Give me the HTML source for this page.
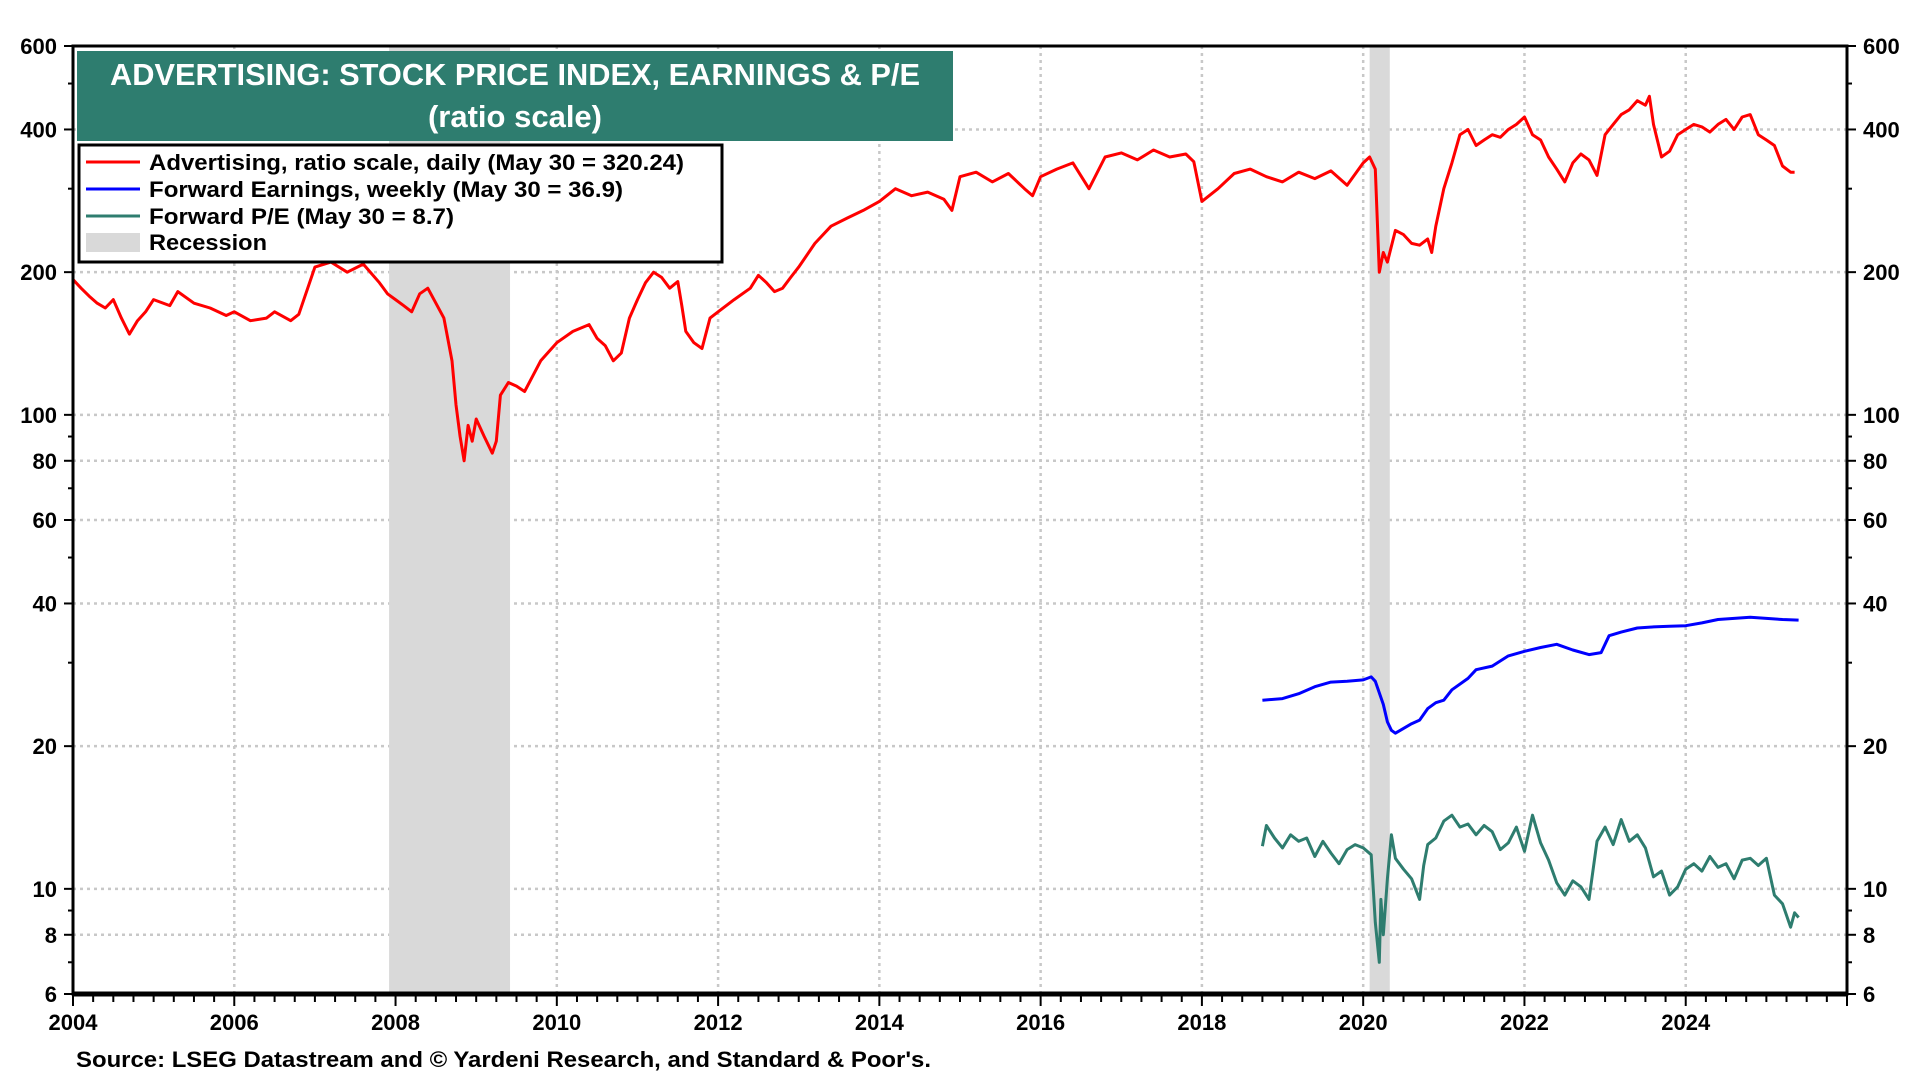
<!DOCTYPE html>
<html><head><meta charset="utf-8"><style>
html,body{margin:0;padding:0;background:#fff;width:1920px;height:1080px;overflow:hidden}
svg text{font-family:"Liberation Sans",Arial,sans-serif;font-weight:bold}
</style></head><body>
<svg id="chart" width="1920" height="1080" xmlns="http://www.w3.org/2000/svg">
<g id="grid"></g>
<g id="rec"></g>
<g id="series"></g>
<g id="axes"></g>
<rect x="77" y="51" width="876" height="90" fill="#2e7d6f"/>
<text x="515" y="85" fill="#fff" font-size="31" text-anchor="middle" textLength="810" lengthAdjust="spacingAndGlyphs">ADVERTISING: STOCK PRICE INDEX, EARNINGS &amp; P/E</text>
<text x="515" y="127" fill="#fff" font-size="31" text-anchor="middle">(ratio scale)</text>
<g>
<rect x="79" y="145" width="643" height="117" fill="#fff" stroke="#000" stroke-width="3"/>
<line x1="86" y1="162" x2="140" y2="162" stroke="#ff0000" stroke-width="3"/>
<text x="149" y="170" font-size="22" textLength="535" lengthAdjust="spacingAndGlyphs">Advertising, ratio scale, daily (May 30 = 320.24)</text>
<line x1="86" y1="189" x2="140" y2="189" stroke="#0000ff" stroke-width="3"/>
<text x="149" y="197" font-size="22" textLength="474" lengthAdjust="spacingAndGlyphs">Forward Earnings, weekly (May 30 = 36.9)</text>
<line x1="86" y1="216" x2="140" y2="216" stroke="#2e7d6f" stroke-width="3"/>
<text x="149" y="224" font-size="22" textLength="305" lengthAdjust="spacingAndGlyphs">Forward P/E (May 30 = 8.7)</text>
<rect x="86" y="233" width="54" height="19" fill="#d9d9d9"/>
<text x="149" y="250" font-size="22" textLength="118" lengthAdjust="spacingAndGlyphs">Recession</text>
</g>
<text x="76" y="1067" font-size="22" textLength="855" lengthAdjust="spacingAndGlyphs">Source: LSEG Datastream and © Yardeni Research, and Standard &amp; Poor's.</text>
</svg>
<script>
const yTicks=[6,8,10,20,40,60,80,100,200,400,600];
const yMinor=[7,9,30,50,70,90,300,500];
const xYears=[2004,2006,2008,2010,2012,2014,2016,2018,2020,2022,2024];
const recessions=[[2007.92,2009.42],[2020.08,2020.33]];
const priceT=[2004.0,2004.1,2004.2,2004.3,2004.4,2004.5,2004.6,2004.7,2004.8,2004.9,2005.0,2005.2,2005.3,2005.5,2005.7,2005.9,2006.0,2006.2,2006.4,2006.5,2006.7,2006.8,2007.0,2007.2,2007.4,2007.6,2007.8,2007.9,2008.0,2008.1,2008.2,2008.3,2008.4,2008.5,2008.6,2008.7,2008.75,2008.8,2008.85,2008.9,2008.95,2009.0,2009.1,2009.2,2009.25,2009.3,2009.4,2009.5,2009.6,2009.8,2010.0,2010.2,2010.4,2010.5,2010.6,2010.7,2010.8,2010.9,2011.0,2011.1,2011.2,2011.3,2011.4,2011.5,2011.55,2011.6,2011.7,2011.8,2011.9,2012.0,2012.2,2012.4,2012.5,2012.6,2012.7,2012.8,2012.9,2013.0,2013.2,2013.4,2013.6,2013.8,2014.0,2014.2,2014.4,2014.6,2014.8,2014.9,2015.0,2015.2,2015.4,2015.6,2015.8,2015.9,2016.0,2016.2,2016.4,2016.6,2016.8,2017.0,2017.2,2017.4,2017.6,2017.8,2017.9,2018.0,2018.2,2018.4,2018.6,2018.8,2019.0,2019.2,2019.4,2019.6,2019.8,2020.0,2020.08,2020.15,2020.2,2020.25,2020.3,2020.4,2020.5,2020.6,2020.7,2020.8,2020.85,2020.9,2021.0,2021.1,2021.2,2021.3,2021.4,2021.5,2021.6,2021.7,2021.8,2021.9,2022.0,2022.1,2022.2,2022.3,2022.4,2022.5,2022.6,2022.7,2022.8,2022.9,2023.0,2023.1,2023.2,2023.3,2023.4,2023.5,2023.55,2023.6,2023.7,2023.8,2023.9,2024.0,2024.1,2024.2,2024.3,2024.4,2024.5,2024.6,2024.7,2024.8,2024.9,2025.0,2025.1,2025.2,2025.3,2025.35,2025.4];
const priceV=[193,185,178,172,168,175,160,148,158,165,175,170,182,172,168,162,165,158,160,165,158,163,205,210,200,208,190,180,175,170,165,180,185,172,160,130,105,90,80,95,88,98,90,83,88,110,117,115,112,130,142,150,155,145,140,130,135,160,175,190,200,195,185,191,170,150,142,138,160,165,175,185,197,190,182,185,195,205,230,250,260,270,282,300,290,295,285,270,318,325,310,323,300,290,318,330,340,300,350,357,345,362,350,355,342,282,300,323,330,318,310,325,315,327,305,340,350,330,200,220,210,245,240,230,228,235,220,250,300,340,390,400,370,380,390,385,400,410,425,390,380,350,330,310,340,355,345,320,390,410,430,440,460,450,470,410,350,360,390,400,410,405,395,410,420,400,425,430,390,380,370,335,325,325];
const earnT=[2018.75,2019.0,2019.2,2019.4,2019.6,2019.8,2020.0,2020.1,2020.15,2020.25,2020.3,2020.35,2020.4,2020.5,2020.6,2020.7,2020.8,2020.9,2021.0,2021.1,2021.3,2021.4,2021.6,2021.8,2022.0,2022.2,2022.4,2022.6,2022.8,2022.95,2023.05,2023.2,2023.4,2023.6,2023.8,2024.0,2024.2,2024.4,2024.6,2024.8,2025.0,2025.2,2025.4];
const earnV=[25.0,25.2,25.8,26.7,27.3,27.4,27.6,28.0,27.4,24.5,22.5,21.6,21.3,21.8,22.3,22.7,24.0,24.7,25.0,26.3,27.8,29.0,29.5,31.0,31.7,32.3,32.8,31.9,31.2,31.5,34.2,34.8,35.5,35.7,35.8,35.9,36.4,37.0,37.2,37.4,37.2,37.0,36.9];
const peT=[2018.75,2018.8,2018.9,2019.0,2019.1,2019.2,2019.3,2019.4,2019.5,2019.6,2019.7,2019.8,2019.9,2020.0,2020.05,2020.1,2020.15,2020.2,2020.22,2020.25,2020.3,2020.35,2020.4,2020.5,2020.6,2020.7,2020.75,2020.8,2020.9,2021.0,2021.1,2021.2,2021.3,2021.4,2021.5,2021.6,2021.7,2021.8,2021.9,2022.0,2022.1,2022.2,2022.3,2022.4,2022.5,2022.6,2022.7,2022.8,2022.9,2023.0,2023.1,2023.2,2023.3,2023.4,2023.5,2023.6,2023.7,2023.8,2023.9,2024.0,2024.1,2024.2,2024.3,2024.4,2024.5,2024.6,2024.7,2024.8,2024.9,2025.0,2025.1,2025.2,2025.25,2025.3,2025.35,2025.4];
const peV=[12.3,13.6,12.8,12.2,13.0,12.6,12.8,11.7,12.6,11.9,11.3,12.1,12.4,12.2,12.0,11.8,8.5,7.0,9.5,8.0,10.5,13.0,11.6,11.0,10.5,9.5,11.2,12.4,12.8,13.9,14.3,13.5,13.7,13.0,13.6,13.2,12.1,12.5,13.5,12.0,14.3,12.5,11.5,10.3,9.7,10.4,10.1,9.5,12.6,13.5,12.4,14.0,12.6,13.0,12.2,10.6,10.9,9.7,10.1,11.0,11.3,10.9,11.7,11.1,11.3,10.5,11.5,11.6,11.2,11.6,9.7,9.3,8.8,8.3,8.9,8.7];

const L=73,R=1847,T=46,B=994,X0=2004,X1=2026,YMIN=6,YMAX=600;
const NS="http://www.w3.org/2000/svg";
function x(t){return L+(t-X0)/(X1-X0)*(R-L);}
function y(v){return B-Math.log10(v/YMIN)/Math.log10(YMAX/YMIN)*(B-T);}
function mk(tag,attrs,parent){const e=document.createElementNS(NS,tag);for(const k in attrs)e.setAttribute(k,attrs[k]);parent.appendChild(e);return e;}
const grid=document.getElementById('grid'),axes=document.getElementById('axes'),rec=document.getElementById('rec'),ser=document.getElementById('series');
yTicks.forEach(v=>{
  if(v!==6&&v!==600){const g=mk('line',{x1:L,x2:R,y1:y(v),y2:y(v),stroke:'#c8c8c8','stroke-width':2.5,'stroke-dasharray':'3,4'},grid);
  
  }
  const t1=mk('text',{x:L-16,y:y(v)+8,'font-size':22,'text-anchor':'end'},axes);t1.textContent=v;
  
  
  const t2=mk('text',{x:R+16,y:y(v)+8,'font-size':22,'text-anchor':'start'},axes);t2.textContent=v;
  
  
  mk('line',{x1:L-9,x2:L,y1:y(v),y2:y(v),stroke:'#000','stroke-width':2},axes);
  mk('line',{x1:R,x2:R+9,y1:y(v),y2:y(v),stroke:'#000','stroke-width':2},axes);
});
yMinor.forEach(v=>{
  mk('line',{x1:L-5,x2:L,y1:y(v),y2:y(v),stroke:'#000','stroke-width':2},axes);
  mk('line',{x1:R,x2:R+5,y1:y(v),y2:y(v),stroke:'#000','stroke-width':2},axes);
});
xYears.forEach(yr=>{
  if(yr!==2004){const g=mk('line',{x1:x(yr),x2:x(yr),y1:T,y2:B,stroke:'#c8c8c8','stroke-width':2.5,'stroke-dasharray':'3,4'},grid);
  
  }
  const t=mk('text',{x:x(yr),y:B+36,'font-size':22,'text-anchor':'middle'},axes);t.textContent=yr;
  
  
});
for(let q=X0*4;q<=X1*4;q++){const t=q/4;const major=(q%8===0);
  mk('line',{x1:x(t),x2:x(t),y1:B,y2:B+(major?12:8),stroke:'#000','stroke-width':2},axes);}
recessions.forEach(r=>{const e=mk('rect',{x:x(r[0]),y:T,width:x(r[1])-x(r[0]),height:B-T,fill:'#d9d9d9'},rec);
  
  });
function line(ts,vs,color,name){const d=ts.map((t,i)=>(i?'L':'M')+x(t).toFixed(1)+','+y(vs[i]).toFixed(1)).join('');
  const p=mk('path',{d:d,fill:'none',stroke:color,'stroke-width':3,'stroke-linejoin':'round'},ser);
  
  }
line(priceT,priceV,'#ff0000','price-index-line');
line(earnT,earnV,'#0000ff','forward-earnings-line');
line(peT,peV,'#2e7d6f','forward-pe-line');
const fr=mk('rect',{x:L,y:T,width:R-L,height:B-T,fill:'none',stroke:'#000','stroke-width':3},axes);


mk('line',{x1:L,x2:R,y1:B,y2:B,stroke:'#000','stroke-width':5},axes);
</script>
</body></html>
